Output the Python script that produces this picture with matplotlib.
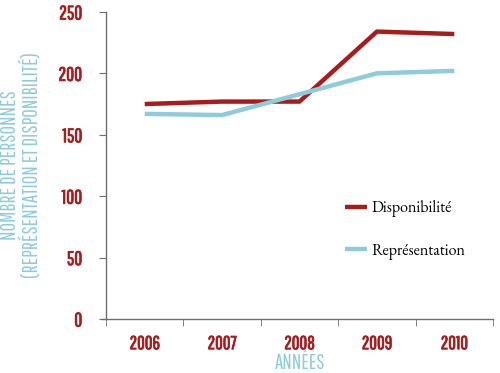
import matplotlib as mpl
import matplotlib.pyplot as plt
import matplotlib.patheffects as pe

years = ["2006", "2007", "2008", "2009", "2010"]
disponibilite = [175, 177, 177, 234, 232]
representation = [167, 166, 183, 200, 202]

RED = "#a81c1c"
BLUE = "#8ecbdc"
GREY = "#6e6e6e"
COND = ["Pathway Gothic One", "DejaVu Sans"]
SERIF = ["EB Garamond", "DejaVu Serif"]

mpl.rcParams.update({"font.family": COND})

fig = plt.figure(figsize=(5.0, 3.73), dpi=100)
ax = fig.add_axes([0.212, 0.145, 0.774, 0.823])

x = range(len(years))
ax.plot(x, disponibilite, color=RED, lw=3.2, solid_capstyle="butt", label="Disponibilité")
ax.plot(x, representation, color=BLUE, lw=3.2, solid_capstyle="butt", label="Représentation")

ax.set_xlim(-0.5, 4.5)
ax.set_ylim(0, 250)
ax.set_yticks([0, 50, 100, 150, 200, 250])
ax.set_xticks(list(x))
ax.set_xticklabels(years)
ax.set_xticks([i - 0.5 for i in range(len(years) + 1)], minor=True)

for s in ("top", "right"):
    ax.spines[s].set_visible(False)
for s in ("left", "bottom"):
    ax.spines[s].set_color(GREY)
    ax.spines[s].set_linewidth(1.0)
ax.spines["bottom"].set_bounds(-0.55, 4.5)

ax.tick_params(axis="x", which="major", length=0, pad=11, labelsize=13.5, labelcolor=RED)
ax.tick_params(axis="x", which="minor", length=5, color=GREY, direction="out")
ax.tick_params(axis="y", length=5, color=GREY, labelsize=14, labelcolor=RED, pad=12)
bold = [pe.withStroke(linewidth=0.6, foreground=RED)]
for t in ax.get_xticklabels() + ax.get_yticklabels():
    t.set_path_effects(bold)

ax.set_xlabel("ANNÉES", color=BLUE, fontsize=15, labelpad=0)
ax.set_ylabel("NOMBRE DE PERSONNES\n(REPRÉSENTATION ET DISPONIBILITÉ)", color=BLUE,
              fontsize=15, linespacing=1.0, labelpad=12)

leg = ax.legend(loc="center left", bbox_to_anchor=(0.58, 0.29), frameon=False,
                prop={"family": SERIF, "size": 11.5},
                handlelength=1.4, handletextpad=0.3, labelspacing=1.6)

fig.savefig("out.png", dpi=100)
